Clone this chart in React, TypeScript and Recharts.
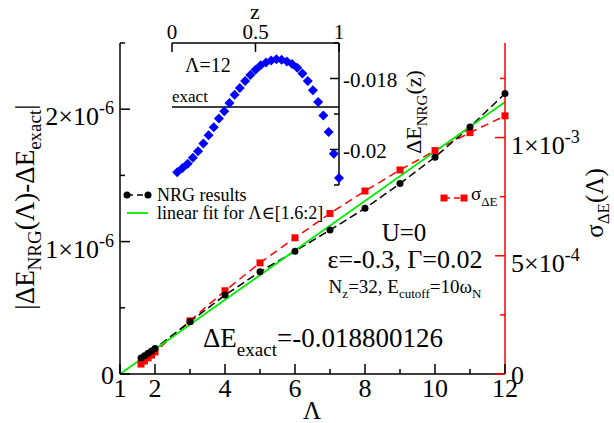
import { ComposedChart, Line, XAxis, YAxis, ReferenceLine } from 'recharts'

// main plot: |dE_NRG(L) - dE_exact| in units of 1e-6, sigma in units of 1e-3
const LAMBDA = [1.6, 1.7, 1.8, 1.9, 2, 3, 4, 5, 6, 7, 8, 9, 10, 11, 12]
const NRG_DIFF = [0.12, 0.138, 0.156, 0.174, 0.192, 0.395, 0.596, 0.772, 0.928, 1.087, 1.251, 1.438, 1.638, 1.866, 2.118]
const SIGMA = [0.042, 0.055, 0.068, 0.08, 0.093, 0.225, 0.352, 0.47, 0.576, 0.679, 0.774, 0.863, 0.945, 1.021, 1.092]
const FIT_LAMBDA = [1, 12]
const FIT_VALUES = [0, 2.055]

const X_TICKS = [1, 2, 3, 4, 5, 6, 7, 8, 9, 10, 11, 12]
const X_LABELED = [1, 2, 4, 6, 8, 10, 12]
const LEFT_TICKS = [0, 0.5, 1, 1.5, 2, 2.5]
const LEFT_LABELS: Record<string, [string, string]> = { '0': ['0', ''], '1': ['1×10', '-6'], '2': ['2×10', '-6'] }
const RIGHT_TICKS = [0, 0.25, 0.5, 0.75, 1, 1.25]
const RIGHT_LABELS: Record<string, [string, string]> = { '0': ['0', ''], '0.5': ['5×10', '-4'], '1': ['1×10', '-3'] }

// inset: dE_NRG(z) for Lambda=12
const Z = [0.031, 0.063, 0.094, 0.125, 0.156, 0.188, 0.219, 0.25, 0.281, 0.313, 0.344, 0.375, 0.406, 0.438, 0.469, 0.5,
  0.531, 0.563, 0.594, 0.625, 0.656, 0.688, 0.719, 0.75, 0.781, 0.813, 0.844, 0.875, 0.906, 0.938, 0.969, 1.0]
const E_Z = [-0.02064, -0.02052, -0.0204, -0.02023, -0.02005, -0.01983, -0.0196, -0.01937, -0.01913, -0.01892, -0.01869,
  -0.01846, -0.01827, -0.01807, -0.0179, -0.01775, -0.01763, -0.01755, -0.01749, -0.01746, -0.01747, -0.01752, -0.01759,
  -0.0177, -0.01786, -0.01807, -0.01833, -0.01866, -0.01904, -0.01951, -0.02012, -0.0208]
const E_EXACT = -0.018800126
const Z_TICKS = [0, 0.5, 1]
const Z_LABELS = ['0', '0.5', '1']
const INSET_Y_TICKS = [-0.021, -0.02, -0.019, -0.018, -0.017]
const INSET_Y_LABELS: Record<string, string> = { '-0.02': '-0.02', '-0.018': '-0.018' }

const nrgData = LAMBDA.map((lam, i) => ({ lam, v: NRG_DIFF[i] }))
const sigmaData = LAMBDA.map((lam, i) => ({ lam, v: SIGMA[i] }))
const fitData = FIT_LAMBDA.map((lam, i) => ({ lam, v: FIT_VALUES[i] }))
const insetData = Z.map((z, i) => ({ z, e: E_Z[i] }))

const SERIF = '"Liberation Serif", "DejaVu Serif", serif'
const TM = 6
const RED = '#ff0000'
const GREEN = '#00ee00'

function XTick({ x, y, payload }: any) {
  const v = payload.value
  const ay = y - TM
  const major = X_LABELED.includes(v)
  return (
    <g>
      <line x1={x} x2={x} y1={ay} y2={ay - (major ? 10 : 5)} stroke="#000" strokeWidth={1.5} />
      {major && <text x={x} y={ay + 23} textAnchor="middle" fontSize={26} fontFamily={SERIF} fill="#000">{v}</text>}
    </g>
  )
}

function LeftTick({ x, y, payload }: any) {
  const ax = x + TM
  const lab = LEFT_LABELS[String(payload.value)]
  return (
    <g>
      <line x1={ax} x2={ax + (lab ? 10 : 5)} y1={y} y2={y} stroke="#000" strokeWidth={1.5} />
      {lab && (
        <text x={ax - 6} y={y + (lab[1] ? 16 : 10)} textAnchor="end" fontSize={26} fontFamily={SERIF} fill="#000">
          <tspan>{lab[0]}</tspan>
          {lab[1] && <tspan dy={-11} fontSize={18}>{lab[1]}</tspan>}
        </text>
      )}
    </g>
  )
}

function RightTick({ x, y, payload }: any) {
  const ax = x - TM
  const lab = RIGHT_LABELS[String(payload.value)]
  return (
    <g>
      <line x1={ax} x2={ax - (lab ? 10 : 5)} y1={y} y2={y} stroke={RED} strokeWidth={1.5} />
      {lab && (
        <text x={ax + 6} y={y + (lab[1] ? 16 : 10)} textAnchor="start" fontSize={26} fontFamily={SERIF} fill="#000">
          <tspan>{lab[0]}</tspan>
          {lab[1] && <tspan dy={-11} fontSize={18}>{lab[1]}</tspan>}
        </text>
      )}
    </g>
  )
}

function ZTick({ x, y, index }: any) {
  const ay = y + TM
  return (
    <g>
      <line x1={x} x2={x} y1={ay} y2={ay + 9} stroke="#000" strokeWidth={1.5} />
      <text x={x} y={ay - 4} textAnchor="middle" fontSize={21} fontFamily={SERIF} fill="#000">{Z_LABELS[index]}</text>
    </g>
  )
}

function InsetYTick({ x, y, payload }: any) {
  const ax = x - TM
  const lab = INSET_Y_LABELS[String(payload.value)]
  return (
    <g>
      <line x1={ax} x2={ax - (lab ? 9 : 5)} y1={y} y2={y} stroke="#000" strokeWidth={1.5} />
      {lab && <text x={ax + 4} y={y + 8} fontSize={21} fontFamily={SERIF} fill="#000">{lab}</text>}
    </g>
  )
}

const Circle = (p: any) =>
  p.cx == null ? null : <circle key={p.index} cx={p.cx} cy={p.cy} r={3.5} fill="#000" />
const Square = (p: any) =>
  p.cx == null ? null : <rect key={p.index} x={p.cx - 3.5} y={p.cy - 3.5} width={7} height={7} fill={RED} />
const Diamond = (p: any) => {
  if (p.cx == null) return null
  const r = 5
  const { cx, cy } = p
  return <path key={p.index} d={`M${cx},${cy - r}L${cx + r},${cy}L${cx},${cy + r}L${cx - r},${cy}Z`} fill="#0000ff" />
}

export default function App() {
  return (
    <div style={{ position: 'relative', width: 614, height: 423, background: '#fff', fontFamily: SERIF }}>
      <style>{'body{margin:0}'}</style>
      <div style={{ position: 'absolute', left: 0, top: 0 }}>
        <ComposedChart width={614} height={423} margin={{ top: 43, right: 39, bottom: 19, left: 50 }}>
          <XAxis dataKey="lam" type="number" domain={[1, 12]} ticks={X_TICKS} interval={0} height={30}
            tickSize={0} tickMargin={TM} tick={<XTick />} axisLine={{ stroke: '#000', strokeWidth: 1.5 }} />
          <YAxis yAxisId="l" type="number" domain={[0, 2.5]} ticks={LEFT_TICKS} interval={0} width={70}
            tickSize={0} tickMargin={TM} tick={<LeftTick />} axisLine={{ stroke: '#000', strokeWidth: 1.5 }} />
          <YAxis yAxisId="r" orientation="right" type="number" domain={[0, 1.4]} ticks={RIGHT_TICKS} interval={0} width={70}
            tickSize={0} tickMargin={TM} tick={<RightTick />} axisLine={{ stroke: RED, strokeWidth: 1.5 }} />
          <Line yAxisId="r" data={sigmaData} dataKey="v" type="linear" stroke={RED} strokeWidth={1.5}
            strokeDasharray="8 5" dot={Square} activeDot={false} isAnimationActive={false} />
          <Line yAxisId="l" data={nrgData} dataKey="v" type="linear" stroke="#000" strokeWidth={1.5}
            strokeDasharray="8 4" dot={Circle} activeDot={false} isAnimationActive={false} />
          <Line yAxisId="l" data={fitData} dataKey="v" type="linear" stroke={GREEN} strokeWidth={1.8}
            dot={false} activeDot={false} isAnimationActive={false} />
        </ComposedChart>
      </div>
      <div style={{ position: 'absolute', left: 150, top: 0 }}>
        <ComposedChart width={260} height={200} data={insetData} margin={{ top: 0, right: 11, bottom: 15, left: 22 }}>
          <XAxis dataKey="z" type="number" orientation="top" domain={[0, 1]} ticks={Z_TICKS} interval={0} height={43}
            tickSize={0} tickMargin={TM} tick={<ZTick />} axisLine={{ stroke: '#000', strokeWidth: 1.5 }} />
          <YAxis yAxisId="e" orientation="right" type="number" domain={[-0.021, -0.017]} ticks={INSET_Y_TICKS}
            interval={0} width={60} tickSize={0} tickMargin={TM} tick={<InsetYTick />}
            axisLine={{ stroke: '#000', strokeWidth: 1.5 }} />
          <ReferenceLine yAxisId="e" y={E_EXACT} stroke="#000" strokeWidth={1.5} />
          <Line yAxisId="e" dataKey="e" type="linear" stroke="none" dot={Diamond} activeDot={false}
            isAnimationActive={false} />
        </ComposedChart>
      </div>
      <svg width={614} height={423} style={{ position: 'absolute', left: 0, top: 0, pointerEvents: 'none' }}
        fontFamily={SERIF} fill="#000">
        {/* axis titles */}
        <text transform="translate(34,207) rotate(-90)" textAnchor="middle" fontSize={27}>
          <tspan>|ΔE</tspan><tspan dy={7} fontSize={19}>NRG</tspan><tspan dy={-7}>(Λ)-ΔE</tspan>
          <tspan dy={7} fontSize={19}>exact</tspan><tspan dy={-7}>|</tspan>
        </text>
        <text transform="translate(603,203) rotate(-90)" textAnchor="middle" fontSize={25}>
          <tspan>σ</tspan><tspan dy={6} fontSize={17}>ΔE</tspan><tspan dy={-6}>(Λ)</tspan>
        </text>
        <text x={312} y={419} textAnchor="middle" fontSize={25}>Λ</text>
        {/* inset titles */}
        <text x={255} y={19} textAnchor="middle" fontSize={22}>z</text>
        <text transform="translate(421,112) rotate(-90)" textAnchor="middle" fontSize={22}>
          <tspan>ΔE</tspan><tspan dy={6} fontSize={15}>NRG</tspan><tspan dy={-6}>(z)</tspan>
        </text>
        <text x={185} y={72} fontSize={20}>Λ=12</text>
        <text x={172} y={102} fontSize={17}>exact</text>
        {/* legends */}
        <line x1={127} x2={148} y1={195} y2={195} stroke="#000" strokeWidth={1.5} strokeDasharray="6 4" />
        <circle cx={127} cy={195} r={3.5} />
        <circle cx={148} cy={195} r={3.5} />
        <text x={157} y={201} fontSize={18}>NRG results</text>
        <line x1={127} x2={148} y1={213} y2={213} stroke={GREEN} strokeWidth={1.8} />
        <text x={157} y={219} fontSize={18}>linear fit for Λ∈[1.6:2]</text>
        <line x1={444} x2={464} y1={198} y2={198} stroke={RED} strokeWidth={1.5} strokeDasharray="6 4" />
        <rect x={440.5} y={194.5} width={7} height={7} fill={RED} />
        <rect x={460.5} y={194.5} width={7} height={7} fill={RED} />
        <text x={471} y={200} fontSize={19}>
          <tspan>σ</tspan><tspan dy={6} fontSize={13}>ΔE</tspan>
        </text>
        {/* annotations */}
        <text x={404} y={241} textAnchor="middle" fontSize={25}>U=0</text>
        <text x={405} y={268} textAnchor="middle" fontSize={26}>ε=-0.3, Γ=0.02</text>
        <text x={405} y={293} textAnchor="middle" fontSize={19}>
          <tspan>N</tspan><tspan dy={5} fontSize={13}>z</tspan><tspan dy={-5}>=32, E</tspan>
          <tspan dy={5} fontSize={13}>cutoff</tspan><tspan dy={-5}>=10ω</tspan><tspan dy={5} fontSize={13}>N</tspan>
        </text>
        <text x={203} y={347} fontSize={27}>
          <tspan>ΔE</tspan><tspan dy={9} fontSize={19}>exact</tspan><tspan dy={-9}>=-0.018800126</tspan>
        </text>
      </svg>
    </div>
  )
}
